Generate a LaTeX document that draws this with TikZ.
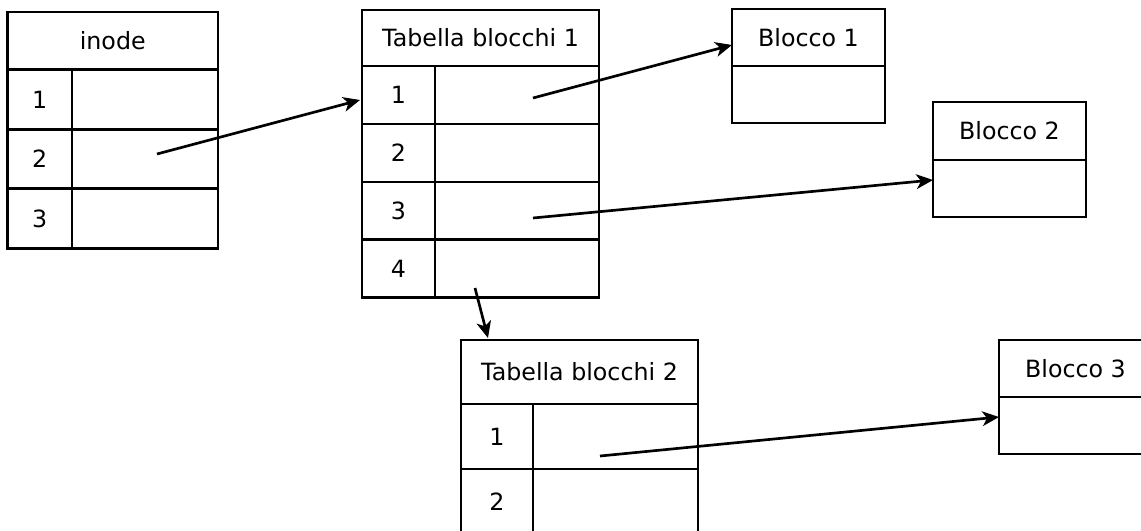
\documentclass[tikz,border=0pt]{standalone}
\usepackage{fontspec}
\setmainfont{DejaVu Sans}
\usepackage{tikz}
\usetikzlibrary{arrows.meta,positioning,calc}

\begin{document}
\begin{tikzpicture}[
		x=0.75pt, y=-0.75pt,
		>=Stealth,
		cell/.style={draw, line width=2pt, inner sep=0pt, outer sep=0pt, font=\fontsize{17.8pt}{20pt}\selectfont},
		sz/.style 2 args={minimum width=#1*0.75pt, minimum height=#2*0.75pt},
		arrow/.style={line width=2pt, -{Stealth[length=12.5pt, width=11pt, inset=3.5pt]}}
		]

		\path[use as bounding box, clip] (0,0) rectangle (1141,531);

		% inode
		\node[cell, sz={210.5}{58}] (ih) at (112.75,41) {inode};
		\foreach \r/\y in {1/99.5, 2/159, 3/218.5} {
			\node[cell, sz={64.5}{59.5}] (in\r) at (39.75,\y) {\r};
			\node[cell, sz={146}{59.5}] (iv\r) at (145,\y) {};
		}

		% tabella blocchi 1
		\node[cell, sz={237}{56}] (t1h) at (480.5,38) {Tabella blocchi 1};
		\foreach \r/\y in {1/95, 2/153, 3/211, 4/268.5} {
			\node[cell, sz={73}{58}] (t1n\r) at (398.5,\y) {\r};
			\node[cell, sz={164}{58}] (t1v\r) at (517,\y) {};
		}

		% tabella blocchi 2
		\node[cell, sz={237}{64}] (t2h) at (579.5,372) {Tabella blocchi 2};
		\foreach \r/\y in {1/436.5, 2/501.5} {
			\node[cell, sz={72}{65}] (t2n\r) at (497,\y) {\r};
			\node[cell, sz={165}{65}] (t2v\r) at (615.5,\y) {};
		}

		% blocchi
		\node[cell, sz={153}{57}] (b1h) at (808.5,37.5) {Blocco 1};
		\node[cell, sz={153}{57}, below=0pt of b1h] (b1c) {};
		\node[cell, sz={153}{58}] (b2h) at (1009.5,131) {Blocco 2};
		\node[cell, sz={153}{57}, below=0pt of b2h] (b2c) {};
		\node[cell, sz={153}{57}] (b3h) at (1075.5,368.5) {Blocco 3};
		\node[cell, sz={153}{57}, below=0pt of b3h] (b3c) {};

		% puntatori
		\coordinate (s1) at (157,154);
		\coordinate (s2) at (533,98);
		\coordinate (s3) at (533,218);
		\coordinate (s4) at (475,288);
		\coordinate (s5) at (600,456);

		\draw[arrow] (s1) -- ($(t1n1.west)+(-2,5)$);
		\draw[arrow] (s2) -- ($(b1h.west)+(0,7.5)$);
		\draw[arrow] (s3) -- ($(b2c.west)+(0,-8.5)$);
		\draw[arrow] (s4) -- ($(t2h.north west)+(27,-2)$);
		\draw[arrow] (s5) -- ($(b3c.west)+(0,-8.5)$);
	\end{tikzpicture}
\end{document}
